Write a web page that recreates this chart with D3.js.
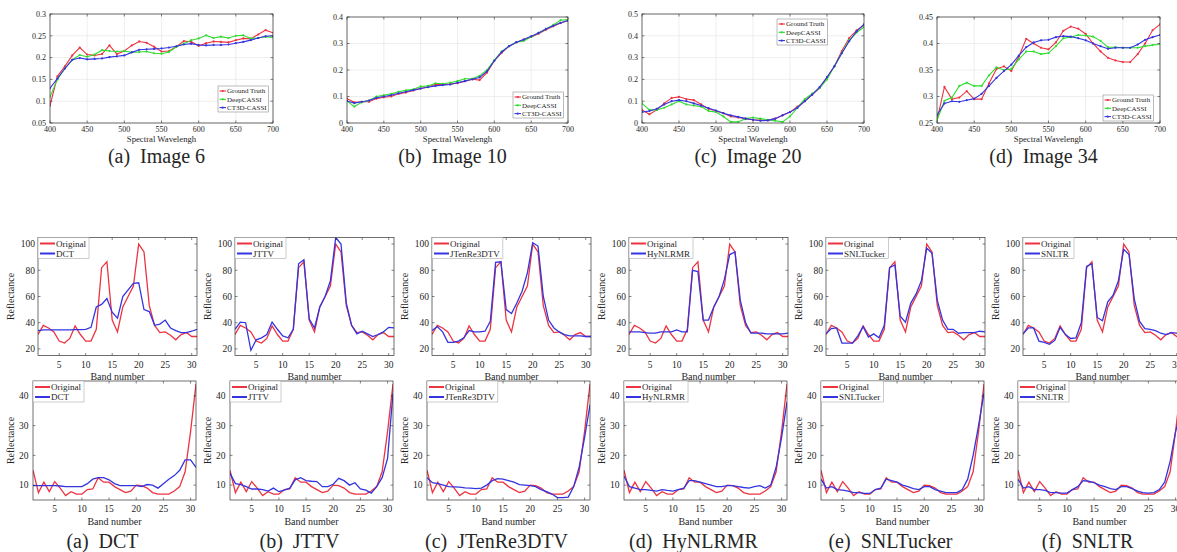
<!DOCTYPE html>
<html><head><meta charset="utf-8">
<script src="https://d3js.org/d3.v7.min.js"></script>
<style>
body{margin:0;background:#fff;}
svg text{fill:#262626;}
</style></head><body>
<svg id="fig" width="1177" height="552" style="font-family:'Liberation Serif','Times New Roman',Times,'DejaVu Serif',serif"></svg>
<script>
// ---- data ----
const wavelengths = [400,410,420,430,440,450,460,470,480,490,500,510,520,530,540,550,560,570,580,590,600,610,620,630,640,650,660,670,680,690,700];
const bands = [1,2,3,4,5,6,7,8,9,10,11,12,13,14,15,16,17,18,19,20,21,22,23,24,25,26,27,28,29,30,31];
const wlTicks = [400,450,500,550,600,650,700];
const bandTicks = [5,10,15,20,25,30];

// Image 6
const gt6   = [0.09,0.157,0.18,0.205,0.223,0.207,0.205,0.208,0.228,0.208,0.215,0.228,0.237,0.234,0.225,0.214,0.215,0.225,0.238,0.236,0.227,0.233,0.237,0.236,0.235,0.24,0.244,0.243,0.253,0.263,0.257];
const deep6 = [0.11,0.15,0.175,0.195,0.206,0.202,0.207,0.217,0.215,0.214,0.215,0.212,0.213,0.214,0.21,0.209,0.213,0.225,0.232,0.24,0.244,0.251,0.245,0.248,0.245,0.25,0.251,0.244,0.245,0.248,0.246];
const ct6   = [0.13,0.152,0.175,0.195,0.199,0.196,0.197,0.198,0.201,0.203,0.205,0.212,0.218,0.219,0.22,0.221,0.223,0.226,0.23,0.232,0.229,0.228,0.229,0.229,0.23,0.233,0.236,0.24,0.245,0.249,0.25];
// Image 10
const gt10   = [0.092,0.078,0.08,0.08,0.092,0.097,0.1,0.11,0.115,0.123,0.13,0.137,0.145,0.145,0.147,0.15,0.158,0.165,0.162,0.19,0.235,0.265,0.29,0.305,0.315,0.325,0.337,0.352,0.365,0.377,0.388];
const deep10 = [0.083,0.062,0.078,0.085,0.1,0.105,0.11,0.118,0.123,0.127,0.138,0.14,0.15,0.148,0.152,0.158,0.167,0.167,0.178,0.2,0.237,0.27,0.29,0.305,0.31,0.325,0.34,0.355,0.37,0.388,0.39];
const ct10   = [0.083,0.075,0.08,0.085,0.095,0.1,0.105,0.112,0.118,0.124,0.13,0.135,0.14,0.143,0.145,0.152,0.158,0.165,0.172,0.195,0.235,0.268,0.29,0.305,0.315,0.327,0.34,0.355,0.367,0.378,0.386];
// Image 20
const gt20   = [0.06,0.04,0.06,0.09,0.115,0.12,0.11,0.105,0.085,0.065,0.055,0.045,0.03,0.025,0.02,0.015,0.013,0.012,0.02,0.035,0.05,0.075,0.1,0.13,0.16,0.21,0.26,0.33,0.39,0.425,0.45];
const deep20 = [0.09,0.06,0.06,0.07,0.085,0.1,0.085,0.08,0.075,0.055,0.05,0.03,0.005,0.005,0.02,0.025,0.02,0.015,0.01,0.005,0.03,0.07,0.11,0.135,0.16,0.2,0.26,0.32,0.38,0.415,0.44];
const ct20   = [0.05,0.055,0.065,0.085,0.1,0.105,0.1,0.09,0.08,0.068,0.057,0.045,0.035,0.028,0.02,0.015,0.01,0.012,0.02,0.035,0.05,0.07,0.1,0.13,0.165,0.21,0.26,0.32,0.375,0.42,0.452];
// Image 34
const gt34   = [0.255,0.318,0.295,0.298,0.31,0.295,0.295,0.325,0.352,0.357,0.348,0.375,0.409,0.4,0.392,0.389,0.402,0.424,0.432,0.428,0.418,0.4,0.385,0.373,0.368,0.365,0.365,0.38,0.4,0.425,0.436];
const deep34 = [0.255,0.292,0.298,0.32,0.326,0.32,0.32,0.34,0.355,0.35,0.352,0.37,0.385,0.385,0.38,0.382,0.395,0.41,0.412,0.416,0.415,0.413,0.405,0.393,0.393,0.392,0.392,0.392,0.395,0.397,0.399];
const ct34   = [0.265,0.287,0.291,0.29,0.293,0.296,0.305,0.32,0.335,0.348,0.36,0.377,0.393,0.402,0.406,0.407,0.412,0.414,0.413,0.41,0.406,0.4,0.395,0.39,0.392,0.392,0.392,0.398,0.407,0.412,0.416];

// band curves, upper row (pixel 1) and lower row (pixel 2)
const origTop  = [31,38,36,33,26,24.5,28,37.5,31,26,26,35,82,86.5,42,33,52,60,68,100,94,53,38,32.5,33,30.5,27,31,32.5,29.5,29.5];
const dctTop   = [34,34.5,34.5,34.5,34.5,34.5,34.5,34.7,34.8,35,36.5,52,54,58.5,48,43.5,60,65,70,70.5,50,48.5,38,39,42,36,34,32.5,32.5,33.5,35];
const jttvTop  = [35,40.5,40,19,27,28.5,31,40.5,35,30,28.5,35,85,88,43,36,52,60,72,105,100,55,38,31.5,33.5,31.5,29.5,31,33,36.5,36];
const jtenTop  = [34,37,33,25,25,26,28.5,34,33,33,33.5,41,86,86.5,50,47,55,64,78,101,98.5,60,42,36,33,31,30,30,30,29.5,29.5];
const hynTop   = [33,33,33,32.5,32,32,33,33,33,34.5,33,33,80,79,42,42,52,60,73,92,94,57,40,32,32,32,31.5,31.5,31.5,31.5,32];
const snltTop  = [31.5,35.5,36,24.5,24.5,24.5,30,37,29,31.5,28.5,38,82,84,45,40.5,55,62,72,97,93,57,42,35,35,32,32.5,32.5,32.5,33.5,33];
const snltrTop = [31.5,36,36,26,25,23.5,26.5,36.5,31,28,28.5,40,83,85,44,41.5,56,61,72,96,92,58,41,35.5,35,34,32,31,32.5,32,30.5];

const origBot  = [15,7.5,11,7.8,11.2,9,6.5,7.8,7,7,8.5,8.7,12.5,11,11,9.5,8.5,7.5,8,10,9.8,9,7.5,7,7,7,8,9.5,14.5,28,44];
const dctBot   = [9.8,9.8,9.8,9.8,9.8,9.7,9.5,9.5,9.5,9.5,10.5,12,12.5,12.5,11.8,10.5,9.8,9.8,9.8,9.8,9.5,10.2,10,9,10.5,12,13.2,15,18.5,18.5,16];
const jttvBot  = [14,10.5,10.2,9.5,8.7,8.7,8.5,8,9,7.8,8.3,9,11.8,12.5,11.5,11.3,11.2,9.5,9.5,10.3,12.3,11.5,10,10.8,8.7,8.3,7.3,9.5,12.5,19,41];
const jtenBot  = [12.5,10.8,10.5,10,9.5,9.4,9.3,9.1,9,8.8,9,10,11.5,12.2,12,11.5,11,10.2,10,9.8,9.5,8.5,7.8,7,5.8,5.8,6,9.5,16,26,37];
const hynBot   = [13,9.5,9,8.5,8.5,8.2,8,8.5,8.2,8,8.5,9,11.5,11.5,11,10.5,10,9.5,9.5,9.8,9.8,9.5,9.2,9,9.5,9.8,9,10,16,26,38];
const snltBot  = [12,9,9.5,8.5,8.3,8,7.5,7.5,7.2,7.2,8.5,9,12,11.5,11,10,9.5,8.8,8.5,9.5,9.5,8.5,8,7.5,7.5,7.5,8.5,12,20,30,41];
const snltrBot = [12,9,9.5,8.5,8.5,8.2,7.5,7.5,7.3,7.3,8.5,9.5,11.5,11.3,10.8,10,9.5,8.8,8.5,9.5,9.5,8.8,8,7.5,7.3,7.5,8.5,11,18,28,35];

const methods = ["DCT","JTTV","JTenRe3DTV","HyNLRMR","SNLTucker","SNLTR"];
const methodTop = [dctTop,jttvTop,jtenTop,hynTop,snltTop,snltrTop];
const methodBot = [dctBot,jttvBot,jtenBot,hynBot,snltBot,snltrBot];
const captions = ["(a)  DCT","(b)  JTTV","(c)  JTenRe3DTV","(d)  HyNLRMR","(e)  SNLTucker","(f)  SNLTR"];
const seriesNames = ["Ground Truth","DeepCASSI","CT3D-CASSI"];

const RED = "#ec3340", GREEN = "#2fdc2f", BLUE = "#3434e0";

const svg = d3.select("#fig");
svg.append("rect").attr("width",1177).attr("height",552).attr("fill","#fff");
let clipId = 0;

function boxTicks(g, x, y, xt, yt, x0, y0, x1, y1, len) {
  const t = g.append("g").attr("stroke","#333").attr("stroke-width",0.6);
  xt.forEach(v => {
    t.append("line").attr("x1",x(v)).attr("x2",x(v)).attr("y1",y1).attr("y2",y1-len);
    t.append("line").attr("x1",x(v)).attr("x2",x(v)).attr("y1",y0).attr("y2",y0+len);
  });
  yt.forEach(v => {
    t.append("line").attr("x1",x0).attr("x2",x0+len).attr("y1",y(v)).attr("y2",y(v));
    t.append("line").attr("x1",x1).attr("x2",x1-len).attr("y1",y(v)).attr("y2",y(v));
  });
  g.append("rect").attr("x",x0).attr("y",y0).attr("width",x1-x0).attr("height",y1-y0)
    .attr("fill","none").attr("stroke","#333").attr("stroke-width",0.7);
}

function clip(g, x0, y0, x1, y1) {
  const id = "c" + (clipId++);
  g.append("clipPath").attr("id",id).append("rect").attr("x",x0).attr("y",y0).attr("width",x1-x0).attr("height",y1-y0);
  return "url(#" + id + ")";
}

// ---- top row: spectral curves ----
const topPanels = [
  {caption:"(a)  Image 6",  series:[gt6,deep6,ct6],    yDomain:[0.05,0.3], yTicks:[0.05,0.1,0.15,0.2,0.25,0.3], box:[50,14,273,123],  legend:[218,86]},
  {caption:"(b)  Image 10", series:[gt10,deep10,ct10], yDomain:[0,0.4],    yTicks:[0,0.1,0.2,0.3,0.4],          box:[347,17,568,123], legend:[513,92]},
  {caption:"(c)  Image 20", series:[gt20,deep20,ct20], yDomain:[0,0.5],    yTicks:[0,0.1,0.2,0.3,0.4,0.5],      box:[642,14,864,123], legend:[777,19]},
  {caption:"(d)  Image 34", series:[gt34,deep34,ct34], yDomain:[0.25,0.45],yTicks:[0.25,0.3,0.35,0.4,0.45],     box:[937,17,1160,123],legend:[1103,95]}
];
const topColors = [RED, GREEN, BLUE];

topPanels.forEach(p => {
  const [x0,y0,x1,y1] = p.box;
  const x = d3.scaleLinear().domain([400,700]).range([x0,x1]);
  const y = d3.scaleLinear().domain(p.yDomain).range([y1,y0]);
  const g = svg.append("g");
  const grid = g.append("g").attr("stroke","#e2e2e2").attr("stroke-width",0.6);
  wlTicks.forEach(v => grid.append("line").attr("x1",x(v)).attr("x2",x(v)).attr("y1",y0).attr("y2",y1));
  p.yTicks.forEach(v => grid.append("line").attr("x1",x0).attr("x2",x1).attr("y1",y(v)).attr("y2",y(v)));

  const cp = clip(g, x0, y0-1, x1, y1+1);
  const line = d3.line().x((d,i) => x(wavelengths[i])).y(d => y(d));
  p.series.forEach((s,k) => {
    const sg = g.append("g").attr("clip-path",cp);
    sg.append("path").attr("d",line(s)).attr("fill","none").attr("stroke",topColors[k]).attr("stroke-width",1.1);
    sg.selectAll("circle").data(s).join("circle").attr("cx",(d,i)=>x(wavelengths[i])).attr("cy",d=>y(d))
      .attr("r",1.1).attr("fill",topColors[k]);
  });
  boxTicks(g, x, y, wlTicks, p.yTicks, x0, y0, x1, y1, 2.5);

  wlTicks.forEach(v => g.append("text").attr("x",x(v)).attr("y",y1+9).attr("text-anchor","middle")
    .attr("font-size",8).text(v));
  p.yTicks.forEach(v => g.append("text").attr("x",x0-4).attr("y",y(v)+2.8).attr("text-anchor","end")
    .attr("font-size",8).text(d3.format("~g")(v)));
  g.append("text").attr("x",(x0+x1)/2).attr("y",142).attr("text-anchor","middle").attr("font-size",8.7)
    .text("Spectral Wavelengh");
  g.append("text").attr("x",(x0+x1)/2-5).attr("y",163).attr("text-anchor","middle").attr("font-size",20)
    .style("white-space","pre").text(p.caption);

  // legend
  const [lx,ly] = p.legend;
  const lg = g.append("g");
  const bg = lg.append("rect").attr("x",lx).attr("y",ly).attr("height",26).attr("fill","#fff")
    .attr("stroke","#777").attr("stroke-width",0.5);
  let tw = 0;
  seriesNames.forEach((n,k) => {
    const cy = ly + 5 + k*8.3;
    lg.append("line").attr("x1",lx+1.5).attr("x2",lx+8).attr("y1",cy).attr("y2",cy).attr("stroke",topColors[k]).attr("stroke-width",1.1);
    lg.append("circle").attr("cx",lx+4.7).attr("cy",cy).attr("r",1.1).attr("fill",topColors[k]);
    const t = lg.append("text").attr("x",lx+9).attr("y",cy+2.4).attr("font-size",7).text(n);
    tw = Math.max(tw, t.node().getComputedTextLength());
  });
  bg.attr("width", tw + 11);
});

// ---- bottom rows: band curves ----
function bandPanel(cfg) {
  const {x0, y0, w, h, yDomain, yTicks, orig, est, name, tickPad, yPad, labelY} = cfg;
  const x1 = x0 + w, y1 = y0 + h;
  const x = d3.scaleLinear().domain([1,31]).range([x0,x1]);
  const y = d3.scaleLinear().domain(yDomain).range([y1,y0]);
  const g = svg.append("g");
  const cp = clip(g, x0, y0, x1, y1);
  const line = d3.line().x((d,i) => x(bands[i])).y(d => y(d));
  const lg = g.append("g").attr("clip-path",cp);
  lg.append("path").attr("d",line(orig)).attr("fill","none").attr("stroke",RED).attr("stroke-width",1.3);
  lg.append("path").attr("d",line(est)).attr("fill","none").attr("stroke",BLUE).attr("stroke-width",1.3);
  boxTicks(g, x, y, bandTicks, yTicks, x0, y0, x1, y1, 2.5);

  bandTicks.forEach(v => g.append("text").attr("x",x(v)).attr("y",y1+tickPad).attr("text-anchor","middle")
    .attr("font-size",9.5).text(v));
  yTicks.forEach(v => g.append("text").attr("x",x0-yPad).attr("y",y(v)+3.3).attr("text-anchor","end")
    .attr("font-size",9.5).text(v));
  g.append("text").attr("x",(x0+x1)/2).attr("y",labelY).attr("text-anchor","middle").attr("font-size",10)
    .text("Band number");
  g.append("text").attr("transform",`translate(${x0-cfg.ylabDx},${(y0+y1)/2}) rotate(-90)`)
    .attr("text-anchor","middle").attr("font-size",10).text("Reflectance");

  // legend
  const leg = g.append("g");
  const bg = leg.append("rect").attr("x",x0).attr("y",y0).attr("height",21).attr("fill","#fff")
    .attr("stroke","#999").attr("stroke-width",0.5);
  let tw = 0;
  [["Original",RED],[name,BLUE]].forEach(([n,c],k) => {
    const cy = y0 + 6 + k*10;
    leg.append("line").attr("x1",x0+2).attr("x2",x0+17).attr("y1",cy).attr("y2",cy).attr("stroke",c).attr("stroke-width",2);
    const t = leg.append("text").attr("x",x0+18).attr("y",cy+3).attr("font-size",9).text(n);
    tw = Math.max(tw, t.node().getComputedTextLength());
  });
  bg.attr("width", tw + 21);
}

methods.forEach((m,i) => {
  bandPanel({x0:38+197*i, y0:237.5, w:159, h:118, yDomain:[15,105], yTicks:[20,40,60,80,100],
    orig:origTop, est:methodTop[i], name:m, tickPad:12.5, yPad:3, labelY:380, ylabDx:24});
  bandPanel({x0:33+197*i, y0:381, w:163, h:119, yDomain:[5,45], yTicks:[10,20,30,40],
    orig:origBot, est:methodBot[i], name:m, tickPad:12, yPad:4.5, labelY:525, ylabDx:19});
  svg.append("text").attr("x",33+197*i+163/2-12).attr("y",548).attr("text-anchor","middle")
    .attr("font-size",20).style("white-space","pre").text(captions[i]);
});
</script>
</body></html>
